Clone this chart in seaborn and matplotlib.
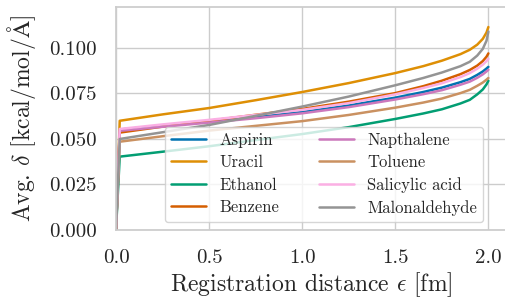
import numpy as np
import pandas as pd
import seaborn as sns
import matplotlib.pyplot as plt

# registration distance grid and average delta per molecule
eps = [0, 0.02, 0.25, 0.5, 0.75, 1.0, 1.25, 1.5, 1.65, 1.75, 1.85, 1.9, 1.94, 1.97, 1.99, 2.0]
aspirin = [0, 0.0552, 0.0573, 0.0595, 0.0620, 0.0648, 0.0684, 0.0727, 0.0758, 0.0782, 0.0812, 0.0830, 0.0852, 0.0871, 0.0887, 0.0896]
uracil = [0, 0.0600, 0.0635, 0.0670, 0.0713, 0.0758, 0.0807, 0.0862, 0.0900, 0.0930, 0.0966, 0.0990, 0.1018, 0.1050, 0.1085, 0.1115]
ethanol = [0, 0.0403, 0.0430, 0.0460, 0.0494, 0.0527, 0.0565, 0.0610, 0.0640, 0.0663, 0.0695, 0.0715, 0.0745, 0.0772, 0.0800, 0.0820]
benzene = [0, 0.0535, 0.0568, 0.0600, 0.0633, 0.0665, 0.0705, 0.0752, 0.0790, 0.0820, 0.0856, 0.0879, 0.0903, 0.0928, 0.0952, 0.0970]
napthalene = [0, 0.0545, 0.0567, 0.0590, 0.0614, 0.0641, 0.0675, 0.0717, 0.0746, 0.0768, 0.0798, 0.0815, 0.0836, 0.0855, 0.0871, 0.0880]
toluene = [0, 0.0485, 0.0515, 0.0546, 0.0572, 0.0598, 0.0632, 0.0672, 0.0700, 0.0722, 0.0752, 0.0770, 0.0792, 0.0810, 0.0826, 0.0835]
salicylic = [0, 0.0555, 0.0580, 0.0605, 0.0632, 0.0660, 0.0697, 0.0745, 0.0780, 0.0806, 0.0840, 0.0862, 0.0886, 0.0908, 0.0928, 0.0940]
malonaldehyde = [0, 0.0500, 0.0537, 0.0577, 0.0627, 0.0678, 0.0733, 0.0795, 0.0835, 0.0865, 0.0900, 0.0924, 0.0958, 0.0995, 0.1040, 0.1090]

names = ["Aspirin", "Uracil", "Ethanol", "Benzene",
         "Napthalene", "Toluene", "Salicylic acid", "Malonaldehyde"]
series = [aspirin, uracil, ethanol, benzene, napthalene, toluene, salicylic, malonaldehyde]

df = pd.concat([pd.DataFrame({"eps": eps, "delta": s, "mol": n})
                for n, s in zip(names, series)], ignore_index=True)

sns.set_theme(style="whitegrid")
plt.rcParams["font.family"] = ["cmr10", "DejaVu Serif"]
plt.rcParams["mathtext.fontset"] = "cm"
plt.rcParams["axes.formatter.use_mathtext"] = True

fig = plt.figure(figsize=(5.05, 3.0), dpi=100)
ax = fig.add_axes([116/505, 70/300, 391/505, 223/300])
sns.lineplot(data=df, x="eps", y="delta", hue="mol", palette="colorblind",
             linewidth=1.8, ax=ax)

ax.set_xlim(0, 2.1)
ax.set_ylim(0, 0.1225)
ax.set_xticks([0, 0.5, 1.0, 1.5, 2.0])
ax.set_yticks([0, 0.025, 0.05, 0.075, 0.1])
ax.set_xticklabels(["0.0", "0.5", "1.0", "1.5", "2.0"])
ax.set_yticklabels(["0.000", "0.025", "0.050", "0.075", "0.100"])
ax.tick_params(axis="x", labelsize=15, pad=8)
ax.tick_params(axis="y", labelsize=15, pad=8)
ax.set_xlabel(r"Registration distance $\epsilon$ [fm]", fontsize=17, labelpad=2)
ax.set_ylabel(r"Avg. $\delta$ [kcal/mol/$\mathrm{Å}$]", fontsize=17, labelpad=8)
ax.legend(title=None, ncol=2, loc="lower left", fontsize=12,
          bbox_to_anchor=(165/505, 78/300), bbox_transform=fig.transFigure,
          borderaxespad=0, borderpad=0.35, labelspacing=0.43,
          handlelength=2.1, handletextpad=0.8, columnspacing=2.4,
          framealpha=0.8)

fig.savefig("out.png", dpi=100)
